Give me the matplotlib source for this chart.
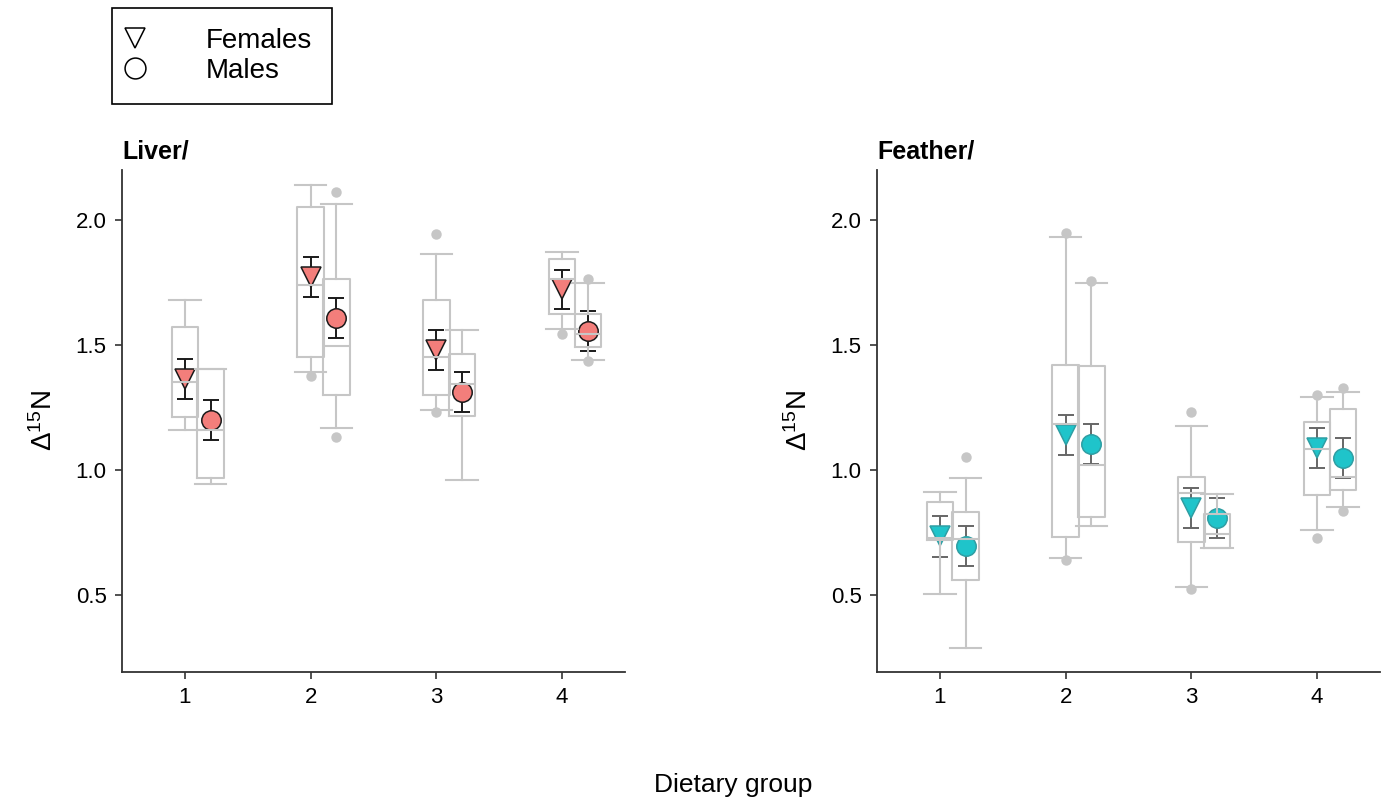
import numpy as np
import matplotlib
matplotlib.use("Agg")
import matplotlib.pyplot as plt
from matplotlib.lines import Line2D

plt.rcParams["font.family"] = ["Liberation Sans", "DejaVu Sans"]
plt.rcParams["mathtext.fontset"] = "custom"
plt.rcParams["mathtext.rm"] = "Liberation Sans"
plt.rcParams["mathtext.it"] = "Liberation Sans:italic"

groups = [1, 2, 3, 4]

# box stats: whislo, q1, med, q3, whishi
liver_f_box = [
    [1.16, 1.21, 1.35, 1.57, 1.68],
    [1.39, 1.45, 1.74, 2.05, 2.14],
    [1.24, 1.30, 1.45, 1.68, 1.865],
    [1.563, 1.625, 1.763, 1.844, 1.872],
]
liver_f_fliers = [[], [1.375], [1.943, 1.232], [1.545]]
liver_m_box = [
    [0.941, 0.968, 1.159, 1.403, 1.403],
    [1.168, 1.30, 1.496, 1.763, 2.063],
    [0.959, 1.217, 1.343, 1.463, 1.559],
    [1.441, 1.493, 1.545, 1.625, 1.748],
]
liver_m_fliers = [[], [2.112, 1.129], [], [1.765, 1.436]]
liver_f_mean = [1.365, 1.772, 1.48, 1.722]
liver_f_se = [0.08, 0.08, 0.08, 0.079]
liver_m_mean = [1.20, 1.607, 1.311, 1.555]
liver_m_se = [0.08, 0.079, 0.08, 0.081]

feather_f_box = [
    [0.503, 0.72, 0.725, 0.872, 0.912],
    [0.645, 0.732, 1.183, 1.421, 1.931],
    [0.532, 0.712, 0.905, 0.972, 1.176],
    [0.759, 0.899, 1.081, 1.189, 1.291],
]
feather_f_fliers = [[], [1.948, 0.639], [1.232, 0.523], [1.301, 0.728]]
feather_m_box = [
    [0.285, 0.559, 0.723, 0.832, 0.968],
    [0.775, 0.809, 1.019, 1.415, 1.748],
    [0.685, 0.685, 0.742, 0.823, 0.904],
    [0.852, 0.919, 0.972, 1.244, 1.311],
]
feather_m_fliers = [[1.049], [1.757], [], [1.328, 0.836]]
feather_f_mean = [0.734, 1.139, 0.845, 1.087]
feather_f_se = [0.082, 0.08, 0.08, 0.079]
feather_m_mean = [0.695, 1.101, 0.807, 1.048]
feather_m_se = [0.08, 0.08, 0.081, 0.08]

BOX_C = "#c6c6c6"
MALE_SHIFT = 0.205


def make_stats(box, fliers):
    out = []
    for b, fl in zip(box, fliers):
        out.append(dict(whislo=b[0], q1=b[1], med=b[2], q3=b[3], whishi=b[4],
                        fliers=np.array(fl)))
    return out


def draw_panel(ax, title, f_box, f_fl, m_box, m_fl, f_mean, f_se, m_mean, m_se,
               face, edge, err_c):
    x = np.array(groups, dtype=float)
    xm = x + MALE_SHIFT
    for mean, se, xs, mk in ((f_mean, f_se, x, "v"), (m_mean, m_se, xm, "o")):
        ax.errorbar(xs, mean, yerr=se, fmt="none", ecolor=err_c, elinewidth=1.4,
                    capsize=6, capthick=1.4, zorder=2)
        ax.plot(xs, mean, ls="none", marker=mk, ms=14, mfc=face, mec=edge,
                mew=1.1, zorder=3)
    props = dict(
        widths=0.21, capwidths=0.25, showfliers=True, patch_artist=False,
        boxprops=dict(color=BOX_C, lw=1.5),
        whiskerprops=dict(color=BOX_C, lw=1.5),
        capprops=dict(color=BOX_C, lw=1.5),
        medianprops=dict(color=BOX_C, lw=1.5),
        flierprops=dict(marker="o", mfc=BOX_C, mec=BOX_C, ms=6.5),
        manage_ticks=False, zorder=4,
    )
    ax.bxp(make_stats(f_box, f_fl), positions=x, **props)
    ax.bxp(make_stats(m_box, m_fl), positions=xm, **props)

    ax.set_xlim(0.5, 4.5)
    ax.set_ylim(0.19, 2.2)
    ax.set_xticks(groups)
    ax.set_yticks([0.5, 1.0, 1.5, 2.0])
    ax.set_yticklabels(["0.5", "1.0", "1.5", "2.0"])
    for s in ("top", "right"):
        ax.spines[s].set_visible(False)
    for s in ("left", "bottom"):
        ax.spines[s].set_color("#333333")
        ax.spines[s].set_linewidth(1.3)
    ax.tick_params(direction="out", length=5, width=1.2, color="#333333",
                   labelsize=16, pad=6)
    ax.set_ylabel(r"$\mathit{\Delta}^{15}\mathrm{N}$", fontsize=20, labelpad=13)
    ax.set_title(title, loc="left", fontweight="bold", fontsize=18, pad=8)


fig = plt.figure(figsize=(13.88, 8.01), dpi=100)
ax1 = fig.add_axes([122 / 1388, 1 - 672 / 801, 503 / 1388, 502 / 801])
ax2 = fig.add_axes([877 / 1388, 1 - 672 / 801, 503 / 1388, 502 / 801])

draw_panel(ax1, "Liver/", liver_f_box, liver_f_fliers, liver_m_box, liver_m_fliers,
           liver_f_mean, liver_f_se, liver_m_mean, liver_m_se,
           "#f37e7b", "#1a1a1a", "#1a1a1a")
draw_panel(ax2, "Feather/", feather_f_box, feather_f_fliers, feather_m_box,
           feather_m_fliers, feather_f_mean, feather_f_se, feather_m_mean,
           feather_m_se, "#1fc4ca", "#2f9ea3", "#666666")

fig.text(733 / 1388, 1 - 785 / 801, "Dietary group", ha="center", va="center",
         fontsize=19)

handles = [
    Line2D([], [], ls="none", marker="v", ms=15, mfc="white", mec="black",
           mew=1.1, label="Females"),
    Line2D([], [], ls="none", marker="o", ms=15, mfc="white", mec="black",
           mew=1.1, label="Males"),
]
leg = fig.legend(handles=handles, loc="upper left",
                 bbox_to_anchor=(112 / 1388, 1 - 8 / 801),
                 bbox_transform=fig.transFigure, borderaxespad=0,
                 fancybox=False, edgecolor="black", framealpha=1,
                 fontsize=20, handlelength=0.2, handletextpad=2.45,
                 borderpad=0.72, labelspacing=0.15)
leg.get_frame().set_linewidth(1.2)

fig.savefig("out.png", dpi=100)
